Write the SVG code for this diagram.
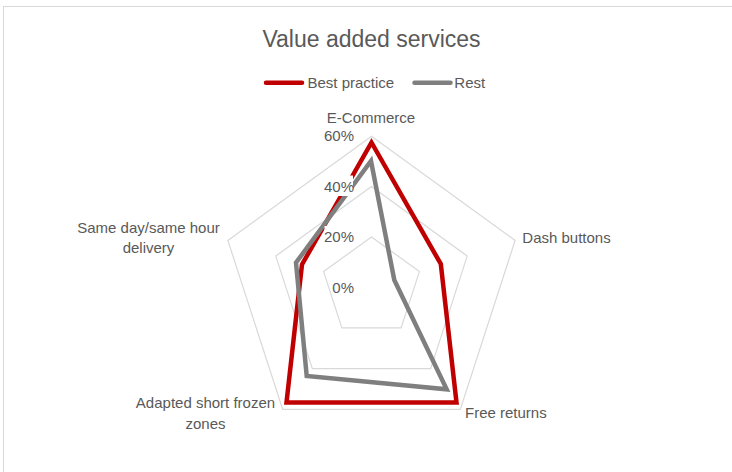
<svg xmlns="http://www.w3.org/2000/svg" width="732" height="472" viewBox="0 0 732 472">
<style>
text{font-family:"Liberation Sans",Arial,sans-serif;fill:#595959}
.lbl{font-size:15px}
.grid{fill:none;stroke:#D9D9D9;stroke-width:1.2}
.best{fill:none;stroke:#C00000;stroke-width:4.5;stroke-linejoin:miter}
.rest{fill:none;stroke:#7F7F7F;stroke-width:4.5;stroke-linejoin:miter}
.bg{fill:#FFFFFF}
</style>
<rect width="732" height="472" fill="#FFFFFF"/>
<rect x="3.5" y="6.5" width="760" height="500" fill="none" stroke="#D9D9D9" stroke-width="1"/>
<text id="title" x="371.5" y="46.5" text-anchor="middle" font-size="23px">Value added services</text>
<g id="legend">
<line x1="266" y1="82.7" x2="302" y2="82.7" stroke="#C00000" stroke-width="4.5" stroke-linecap="round"/>
<text class="lbl" x="307.5" y="87.7">Best practice</text>
<line x1="414.5" y1="82.7" x2="450.5" y2="82.7" stroke="#7F7F7F" stroke-width="4.5" stroke-linecap="round"/>
<text class="lbl" x="454.3" y="87.7">Rest</text>
</g>
<g id="grid">
<polygon class="grid" points="371.5,136.2 515.1,240.5 460.3,409.4 282.7,409.4 227.9,240.5"/>
<polygon class="grid" points="371.5,186.5 467.2,256.1 430.7,368.6 312.3,368.6 275.8,256.1"/>
<polygon class="grid" points="371.5,236.9 419.4,271.6 401.1,327.9 341.9,327.9 323.6,271.6"/>
</g>
<g id="series">
<polygon id="best" class="best" points="371.5,142.5 440.8,264 456.5,402.5 286.5,402.5 302,264.5"/>
<polygon id="rest" class="rest" points="371,161 394.3,280 446.7,389.3 306.7,376 296,262.7"/>
</g>
<g id="axis-labels">
<rect class="bg" x="324.5" y="125" width="29.5" height="20.5"/>
<text class="lbl" x="354" y="141" text-anchor="end">60%</text>
<rect class="bg" x="324.5" y="175.5" width="28.5" height="20.5"/>
<text class="lbl" x="354" y="191.5" text-anchor="end">40%</text>
<rect class="bg" x="324.5" y="226" width="29.5" height="20.5"/>
<text class="lbl" x="354" y="242" text-anchor="end">20%</text>
<rect class="bg" x="332.5" y="276.5" width="21.5" height="20.5"/>
<text class="lbl" x="354" y="292.5" text-anchor="end">0%</text>
</g>
<g id="cat-ecommerce"><text class="lbl" x="371" y="123.3" text-anchor="middle">E-Commerce</text></g>
<g id="cat-dash"><text class="lbl" x="522.3" y="242.7">Dash buttons</text></g>
<g id="cat-free"><text class="lbl" x="465" y="418.3">Free returns</text></g>
<g id="cat-frozen"><text class="lbl" x="205.5" y="408.3" text-anchor="middle">Adapted short frozen</text><text class="lbl" x="205.5" y="429.3" text-anchor="middle">zones</text></g>
<g id="cat-sameday"><text class="lbl" x="148.5" y="233.3" text-anchor="middle">Same day/same hour</text><text class="lbl" x="148.5" y="253.3" text-anchor="middle">delivery</text></g>
</svg>
